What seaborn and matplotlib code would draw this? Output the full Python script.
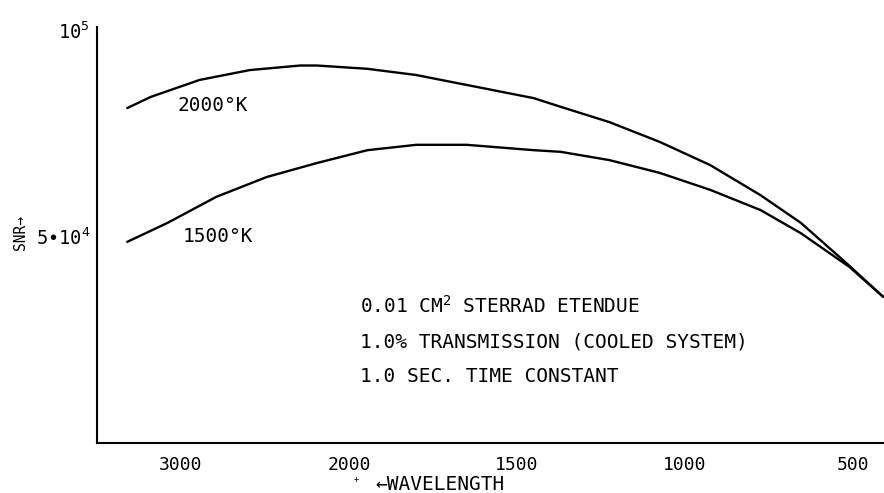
import numpy as np
import pandas as pd
import matplotlib
matplotlib.use("Agg")
import matplotlib.pyplot as plt
import seaborn as sns

# x is in "tick units": 0 = 3000, 1 = 2000, 2 = 1500, 3 = 1000, 4 = 500
tick_pos = [0, 1, 2, 3, 4]
tick_labels = ["3000", "2000", "1500", "1000", "500"]

pos_2000 = [-0.32, -0.18, 0.11, 0.41, 0.71, 0.81, 1.11, 1.40, 1.70,
            2.10, 2.26, 2.55, 2.85, 3.15, 3.45, 3.69, 3.96, 4.18]
snr_2000 = [81.1, 83.8, 87.9, 90.3, 91.4, 91.4, 90.6, 89.1, 86.7,
            83.5, 81.4, 77.7, 72.9, 67.3, 60.0, 53.3, 43.6, 35.4]

pos_1500 = [-0.32, -0.08, 0.21, 0.51, 0.81, 1.11, 1.40, 1.70, 2.10,
            2.26, 2.55, 2.85, 3.15, 3.45, 3.69, 3.86, 3.98, 4.18]
snr_1500 = [48.7, 53.3, 59.6, 64.4, 67.8, 70.9, 72.2, 72.2, 70.9,
            70.5, 68.5, 65.4, 61.3, 56.4, 50.8, 46.0, 42.6, 35.4]

notes = ["0.01 CM$^2$ STERRAD ETENDUE",
         "1.0% TRANSMISSION (COOLED SYSTEM)",
         "1.0 SEC. TIME CONSTANT"]

df = pd.concat([
    pd.DataFrame({"pos": pos_2000, "snr": np.array(snr_2000) * 1e3, "T": "2000"}),
    pd.DataFrame({"pos": pos_1500, "snr": np.array(snr_1500) * 1e3, "T": "1500"}),
])

sns.set_style("white")
plt.rcParams["font.family"] = ["DejaVu Sans Mono", "DejaVu Sans"]
plt.rcParams["mathtext.default"] = "regular"
plt.rcParams["text.color"] = "black"

fig = plt.figure(figsize=(8.84, 4.93), dpi=100)
ax = fig.add_axes([97 / 884, 50 / 493, 787 / 884, 416 / 493])

sns.lineplot(data=df, x="pos", y="snr", hue="T", palette=["black", "black"],
             linewidth=1.7, legend=False, ax=ax, estimator=None, sort=False)

ax.set_xlim(-0.5, 4.185)
ax.set_ylim(0, 100726)
ax.set_xticks(tick_pos)
ax.set_xticklabels(tick_labels, fontsize=13, color="black")
ax.set_yticks([5e4, 1e5])
ax.set_yticklabels(["5\u202210$^4$", "10$^5$"], fontsize=13.5, color="black")
ax.tick_params(axis="x", length=0, pad=9)
ax.tick_params(axis="y", length=0, pad=5)
ax.set_xlabel("")
ax.set_ylabel("")
sns.despine(ax=ax)
for s in ["left", "bottom"]:
    ax.spines[s].set_linewidth(1.5)
    ax.spines[s].set_color("black")

ax.text(0.19, 81.8e3, "2000°K", fontsize=14, ha="center", va="center")
ax.text(0.22, 50.1e3, "1500°K", fontsize=14, ha="center", va="center")

for y, t in zip([33.2e3, 24.5e3, 16.0e3], notes):
    ax.text(1.065, y, t, fontsize=14, ha="left", va="center")

fig.text(375 / 884, 1 - 485 / 493, "\u2190WAVELENGTH", fontsize=14,
         ha="left", va="center")
fig.text(356 / 884, 1 - 479 / 493, "+", fontsize=6, ha="center", va="center")
fig.text(20 / 884, 1 - 233 / 493, "SNR\u2192", fontsize=10.5, rotation=90,
         ha="center", va="center")

fig.savefig("out.png", dpi=100)
